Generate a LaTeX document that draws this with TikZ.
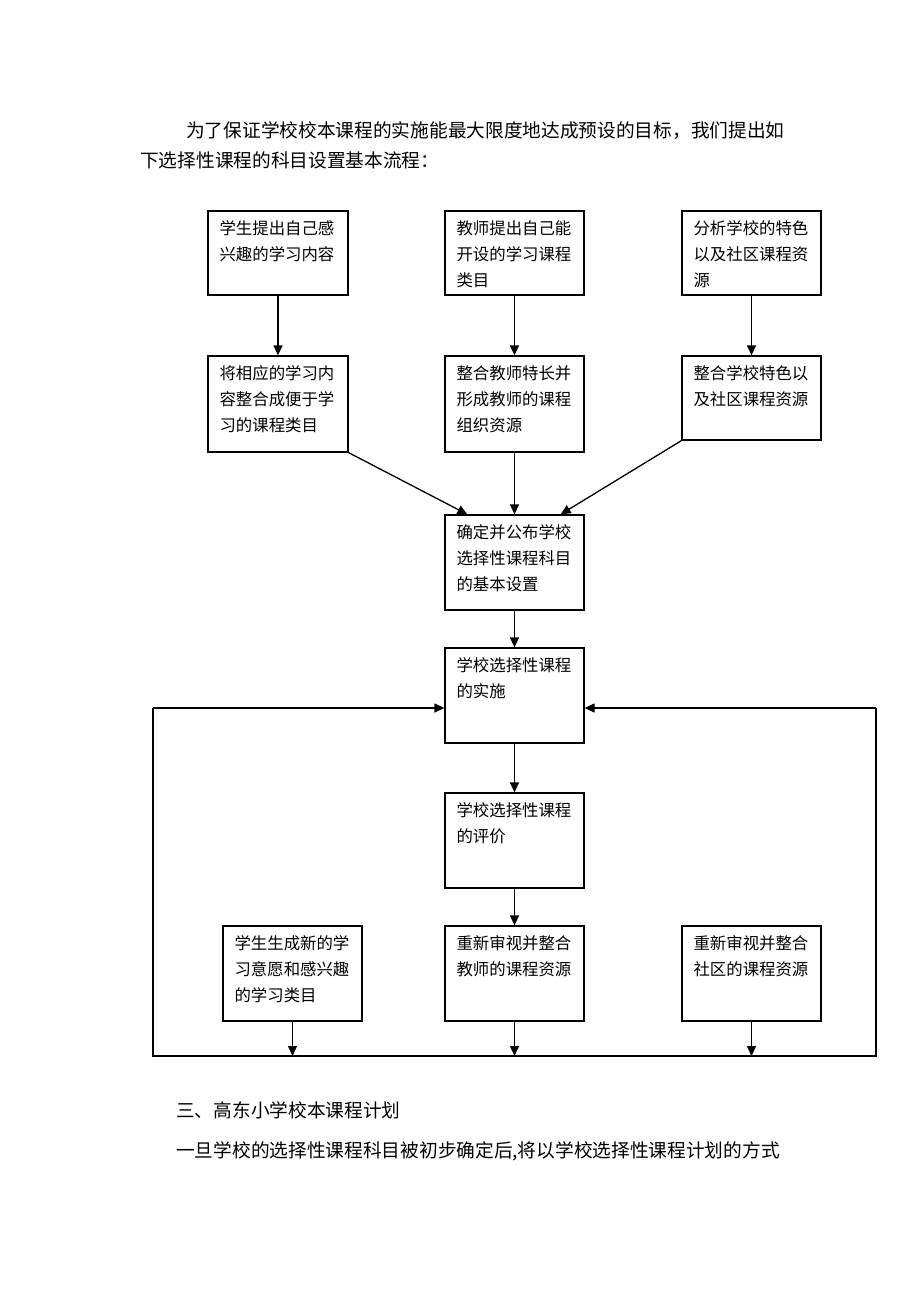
\documentclass[tikz,border=0pt]{standalone}
\usepackage{fontspec}
\newfontfamily\cjk{Noto Sans CJK SC}
\usetikzlibrary{arrows.meta,calc}
\begin{document}
\begin{tikzpicture}[x=1pt,y=-1pt,
 box/.style={draw=black,line width=1.3pt,inner sep=0pt},
 btxt/.style={anchor=north west,inner sep=0pt,align=left,font=\cjk\fontsize{16.4}{26}\selectfont},
 para/.style={anchor=base west,inner sep=0pt,font=\cjk\fontsize{18.7}{24}\selectfont},
 arr/.style={line width=1.3pt,-{Triangle[length=10pt,width=9pt]}},
 ln/.style={line width=1.3pt}]
\useasboundingbox (0,0) rectangle (920,1302);

% paragraph text
\node[para] (p1) at (186,137) {为了保证学校校本课程的实施能最大限度地达成预设的目标，我们提出如};
\node[para] (p2) at (140,167) {下选择性课程的科目设置基本流程：};
\node[para] (p3) at (176,1117) {三、高东小学校本课程计划};
\node[para] (p4) at (176,1157) {一旦学校的选择性课程科目被初步确定后,将以学校选择性课程计划的方式};

% boxes
\node[box,minimum width=140,minimum height=84] (b1) at (278,253) {};
\node[box,minimum width=139,minimum height=84] (b2) at (514.5,253) {};
\node[box,minimum width=139,minimum height=84] (b3) at (751.5,253) {};
\node[box,minimum width=140,minimum height=96] (b4) at (278,404) {};
\node[box,minimum width=139,minimum height=96] (b5) at (514.5,404) {};
\node[box,minimum width=139,minimum height=84] (b6) at (751.5,398) {};
\node[box,minimum width=139,minimum height=95] (b7) at (514.5,562.5) {};
\node[box,minimum width=139,minimum height=95] (b8) at (514.5,695.5) {};
\node[box,minimum width=139,minimum height=95] (b9) at (514.5,840.5) {};
\node[box,minimum width=139,minimum height=95] (b10) at (292.5,973.5) {};
\node[box,minimum width=139,minimum height=95] (b11) at (514.5,973.5) {};
\node[box,minimum width=139,minimum height=95] (b12) at (751.5,973.5) {};

% box texts
\node[btxt] (t1) at ($(b1.north west)+(12,10)$) {学生提出自己感\\兴趣的学习内容};
\node[btxt] (t2) at ($(b2.north west)+(12,10)$) {教师提出自己能\\开设的学习课程\\类目};
\node[btxt] (t3) at ($(b3.north west)+(12,10)$) {分析学校的特色\\以及社区课程资\\源};
\node[btxt] (t4) at ($(b4.north west)+(12,10)$) {将相应的学习内\\容整合成便于学\\习的课程类目};
\node[btxt] (t5) at ($(b5.north west)+(12,10)$) {整合教师特长并\\形成教师的课程\\组织资源};
\node[btxt] (t6) at ($(b6.north west)+(12,10)$) {整合学校特色以\\及社区课程资源};
\node[btxt] (t7) at ($(b7.north west)+(12,10)$) {确定并公布学校\\选择性课程科目\\的基本设置};
\node[btxt] (t8) at ($(b8.north west)+(12,10)$) {学校选择性课程\\的实施};
\node[btxt] (t9) at ($(b9.north west)+(12,10)$) {学校选择性课程\\的评价};
\node[btxt] (t10) at ($(b10.north west)+(12,10)$) {学生生成新的学\\习意愿和感兴趣\\的学习类目};
\node[btxt] (t11) at ($(b11.north west)+(12,10)$) {重新审视并整合\\教师的课程资源};
\node[btxt] (t12) at ($(b12.north west)+(12,10)$) {重新审视并整合\\社区的课程资源};

% connectors
\draw[arr] (b1) -- (b4);
\draw[arr] (b2) -- (b5);
\draw[arr] (b3) -- (b6);
\draw[arr] (b4.south east) -- ($(b7.north west)+(23,0)$);
\draw[arr] (b5) -- (b7);
\draw[arr] (b6.south west) -- ($(b7.north east)+(-24,0)$);
\draw[arr] (b7) -- (b8);
\draw[arr] (b8) -- (b9);
\draw[arr] (b9) -- (b11);

% feedback loop
\coordinate (lt) at (153,708);
\coordinate (lb) at (153,1056);
\coordinate (rb) at (876,1056);
\coordinate (rt) at (876,708);
\draw[ln] (lt) -- (lb) -- (rb) -- (rt);
\draw[arr] (lt) -- (lt -| b8.west);
\draw[arr] (rt) -- (rt -| b8.east);
\draw[arr] (b10.south) -- (b10.south |- lb);
\draw[arr] (b11.south) -- (b11.south |- lb);
\draw[arr] (b12.south) -- (b12.south |- lb);
\end{tikzpicture}
\end{document}
